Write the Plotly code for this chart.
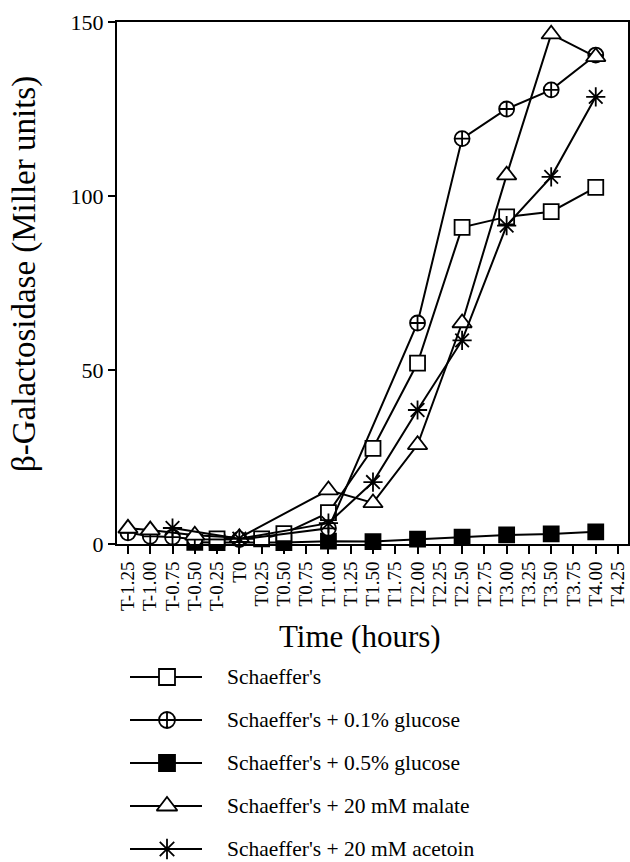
import plotly.graph_objects as go

W, H = 630, 862

tick_vals = [-1.25 + 0.25 * i for i in range(23)]
tick_text = ["T-1.25", "T-1.00", "T-0.75", "T-0.50", "T-0.25", "T0", "T0.25", "T0.50",
             "T0.75", "T1.00", "T1.25", "T1.50", "T1.75", "T2.00", "T2.25", "T2.50",
             "T2.75", "T3.00", "T3.25", "T3.50", "T3.75", "T4.00", "T4.25"]

schaeffer_t = [-0.25, 0.25, 0.5, 1.0, 1.5, 2.0, 2.5, 3.0, 3.5, 4.0]
schaeffer_v = [1.5, 1.5, 3.0, 9.0, 27.5, 52.0, 91.0, 94.0, 95.5, 102.5]

glc01_t = [-1.25, -1.0, -0.75, -0.5, 0.0, 1.0, 2.0, 2.5, 3.0, 3.5, 4.0]
glc01_v = [3.2, 2.2, 2.0, 1.4, 1.3, 4.5, 63.5, 116.5, 125.0, 130.5, 140.5]

glc05_t = [-0.5, -0.25, 0.5, 1.0, 1.5, 2.0, 2.5, 3.0, 3.5, 4.0]
glc05_v = [0.5, 0.4, 0.4, 0.8, 0.7, 1.4, 2.0, 2.6, 2.9, 3.5]

malate_t = [-1.25, -1.0, -0.5, 0.0, 1.0, 1.5, 2.0, 2.5, 3.0, 3.5, 4.0]
malate_v = [4.5, 4.0, 2.5, 1.8, 15.5, 11.8, 28.5, 63.5, 106.0, 146.5, 140.0]

acetoin_t = [-0.75, 0.0, 1.0, 1.5, 2.0, 2.5, 3.0, 3.5, 4.0]
acetoin_v = [4.6, 1.5, 6.0, 17.8, 38.5, 58.5, 91.5, 105.5, 128.5]

series_names = ["Schaeffer's", "Schaeffer's + 0.1% glucose", "Schaeffer's + 0.5% glucose",
                "Schaeffer's + 20 mM malate", "Schaeffer's + 20 mM acetoin"]

FONT = "Liberation Serif, Times New Roman, serif"

styles = [
    dict(symbol="square", color="white", size=15),
    dict(symbol="circle-cross", color="white", size=15),
    dict(symbol="square", color="black", size=15),
    dict(symbol="triangle-up", color="white", size=17),
    dict(symbol="asterisk-open", color="black", size=16),
]
data = [(schaeffer_t, schaeffer_v), (glc01_t, glc01_v), (glc05_t, glc05_v),
        (malate_t, malate_v), (acetoin_t, acetoin_v)]

fig = go.Figure()
draw_order = [2, 0, 1, 3, 4]
for i in draw_order:
    t, v = data[i]
    s = styles[i]
    fig.add_trace(go.Scatter(
        x=t, y=v, mode="lines+markers", name=series_names[i],
        line=dict(color="black", width=2),
        marker=dict(symbol=s["symbol"], size=s["size"], color=s["color"],
                    line=dict(color="black", width=1.8)),
        cliponaxis=False, showlegend=False, xaxis="x", yaxis="y"))

# custom legend on pixel-space axes covering the whole figure
leg_y0, leg_dy = 677, 43.0
for i, name in enumerate(series_names):
    yy = leg_y0 + i * leg_dy
    s = styles[i]
    fig.add_trace(go.Scatter(
        x=[130, 202], y=[yy, yy], mode="lines",
        line=dict(color="black", width=2), showlegend=False,
        xaxis="x2", yaxis="y2", hoverinfo="skip", cliponaxis=False))
    fig.add_trace(go.Scatter(
        x=[167], y=[yy], mode="markers",
        marker=dict(symbol=s["symbol"], size=s["size"] + 1, color=s["color"],
                    line=dict(color="black", width=1.8)),
        showlegend=False, xaxis="x2", yaxis="y2", hoverinfo="skip", cliponaxis=False))
    fig.add_annotation(x=225, y=yy, xref="x2", yref="y2", text=name, showarrow=False,
                       xanchor="left", yanchor="middle",
                       font=dict(family=FONT, size=21.5, color="black"))

# axis titles
fig.add_annotation(x=24 / W, y=1 - 274 / H, xref="paper", yref="paper",
                   xanchor="center", yanchor="middle",
                   text="β-Galactosidase (Miller units)", textangle=-90, showarrow=False,
                   font=dict(family=FONT, size=33, color="black"))
fig.add_annotation(x=360 / W, y=1 - 636 / H, xref="paper", yref="paper",
                   xanchor="center", yanchor="middle",
                   text="Time (hours)", showarrow=False,
                   font=dict(family=FONT, size=31, color="black"))

fig.update_layout(
    template="none",
    width=W, height=H, margin=dict(l=0, r=0, t=0, b=0, autoexpand=False),
    paper_bgcolor="white", plot_bgcolor="rgba(0,0,0,0)", showlegend=False,
    font=dict(family=FONT, color="black"),
    xaxis=dict(domain=[117 / W, 628 / W], range=[-1.373, 4.362],
               tickmode="array", tickvals=tick_vals, ticktext=tick_text, tickangle=-90,
               ticks="outside", ticklen=8, tickwidth=2, tickcolor="black",
               showline=True, linecolor="black", linewidth=2, mirror=True,
               showgrid=False, zeroline=False, anchor="y", automargin=False,
               tickfont=dict(family=FONT, size=19, color="black")),
    yaxis=dict(domain=[1 - 544 / H, 1 - 22 / H], range=[0, 150],
               tickmode="array", tickvals=[0, 50, 100, 150],
               ticks="outside", ticklen=7, tickwidth=2, tickcolor="black",
               showline=True, linecolor="black", linewidth=2, mirror=True,
               showgrid=False, zeroline=False, anchor="x", automargin=False,
               tickfont=dict(family=FONT, size=22, color="black")),
    xaxis2=dict(domain=[0, 1], range=[0, W], visible=False, anchor="y2",
                automargin=False, fixedrange=True),
    yaxis2=dict(domain=[0, 1], range=[H, 0], visible=False, anchor="x2",
                automargin=False, fixedrange=True),
)

fig.write_html("out.html", config={"displayModeBar": False},
               post_script="document.body.style.margin='0';document.body.style.overflow='hidden';")
